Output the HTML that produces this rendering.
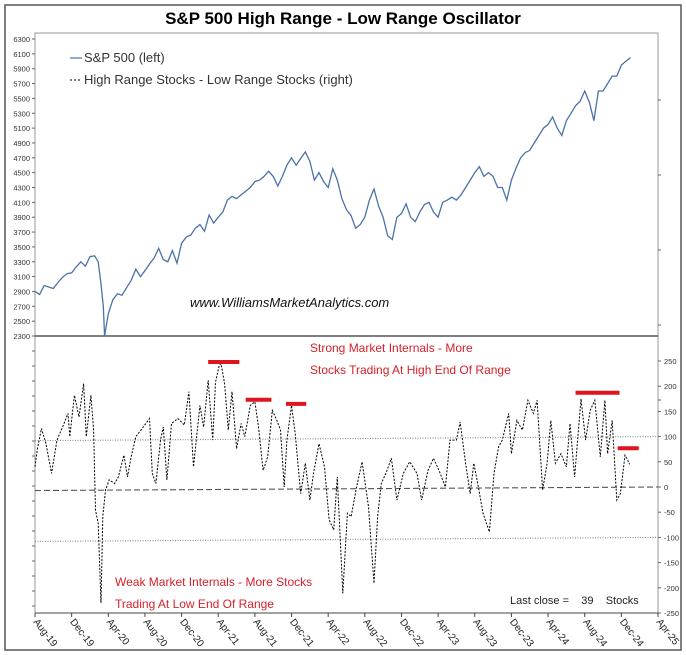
<!DOCTYPE html>
<html><head><meta charset="utf-8"><style>
body{margin:0;background:#fff;}
svg{display:block;font-family:"Liberation Sans",Arial,sans-serif;}
</style></head><body>
<svg id="c" width="686" height="655" viewBox="0 0 686 655">
<rect x="5" y="5" width="676" height="645" fill="#fff" stroke="#555" stroke-width="1.5"/>
<text x="343" y="24" text-anchor="middle" font-size="17" font-weight="bold">S&amp;P 500 High Range - Low Range Oscillator</text>
<g id="g"></g>
<line x1="70" y1="58" x2="82" y2="58" stroke="#4a72a8" stroke-width="1.2"/>
<text x="84" y="62" font-size="13" fill="#333">S&amp;P 500 (left)</text>
<line x1="70" y1="80" x2="82" y2="80" stroke="#000" stroke-dasharray="2,2"/>
<text x="84" y="84" font-size="13" fill="#333">High Range Stocks - Low Range Stocks (right)</text>
<text x="190" y="307" font-size="13" font-style="italic" fill="#111">www.WilliamsMarketAnalytics.com</text>
<text x="310" y="352" font-size="12" fill="#d8202a">Strong Market Internals - More</text>
<text x="310" y="374" font-size="12" fill="#d8202a">Stocks Trading At High End Of Range</text>
<text x="115" y="586" font-size="12" fill="#d8202a">Weak Market Internals - More Stocks</text>
<text x="115" y="608" font-size="12" fill="#d8202a">Trading At Low End Of Range</text>
<text x="510" y="604" font-size="11" fill="#222">Last close =&#160;&#160;&#160; 39&#160;&#160;&#160; Stocks</text>
</svg>
<script>
const spMonths=[0,0.5,1,1.5,2,2.5,3,3.5,4,4.5,5,5.5,6,6.5,6.9,7.2,7.45,7.6,8,8.5,9,9.5,10,10.5,11,11.5,12,12.5,13,13.5,14,14.5,15,15.5,16,16.5,17,17.5,18,18.5,19,19.5,20,20.5,21,21.5,22,22.5,23,23.5,24,24.5,25,25.5,26,26.5,27,27.5,28,28.5,29,29.5,30,30.5,31,31.5,32,32.5,33,33.5,34,34.5,35,35.5,36,36.5,37,37.5,38,38.5,39,39.5,40,40.5,41,41.5,42,42.5,43,43.5,44,44.5,45,45.5,46,46.5,47,47.5,48,48.5,49,49.5,50,50.5,51,51.5,52,52.5,53,53.5,54,54.5,55,55.5,56,56.5,57,57.5,58,58.5,59,59.5,60,60.5,61,61.5,62,62.5,63,63.5,64,64.5,65];
const spValues=[2900,2860,2980,2960,2940,3020,3090,3140,3150,3230,3300,3240,3370,3380,3300,3000,2700,2250,2600,2790,2870,2850,2950,3050,3200,3100,3180,3270,3350,3480,3330,3300,3450,3280,3550,3630,3660,3750,3800,3710,3930,3820,3900,3970,4130,4180,4150,4200,4250,4300,4380,4400,4450,4520,4450,4320,4450,4600,4700,4600,4690,4780,4650,4400,4500,4380,4300,4550,4400,4150,4000,3920,3750,3800,3900,4130,4280,4050,3900,3650,3600,3900,3950,4080,3900,3840,3970,4070,4100,3970,3900,4100,4130,4170,4130,4200,4300,4400,4500,4580,4450,4500,4450,4300,4300,4130,4400,4560,4700,4770,4800,4900,5000,5100,5150,5250,5100,5000,5200,5300,5400,5460,5600,5450,5200,5600,5600,5700,5800,5800,5950,6000,6050,5900,5850,6100,6000];
const oscMonths=[0,0.24,0.7,1.2,1.8,2.4,3.1,3.6,3.8,4.3,4.8,5.3,5.6,6.1,6.4,6.6,6.9,7.2,7.4,7.7,8.1,8.7,9.1,9.7,10.1,10.5,11,11.7,12.5,12.8,13.2,13.7,14,14.4,14.9,15.6,16.3,16.8,17.3,18,18.4,18.9,19.4,19.7,20.1,20.3,20.7,21.1,21.5,22,22.5,22.9,23.5,24,24.4,24.9,25.4,25.9,26.4,26.8,27.2,27.5,28,28.4,29,29.5,30,30.4,31,31.6,32.1,32.6,33,33.6,34.1,34.5,35.1,35.7,36.4,37,37.4,37.8,38.3,38.9,39.5,40.2,40.9,41.7,42.2,42.9,43.5,44.1,44.8,45.3,46,46.4,47,47.5,47.9,48.4,48.9,49.6,50.1,50.6,51,51.7,52,52.6,53.2,53.8,54.4,54.8,55.4,55.9,56.3,56.8,57.4,58,58.4,58.9,59.6,60.1,60.6,61.1,61.7,62.2,62.5,63,63.5,63.9,64.4,64.7,64.9];
const oscValues=[40,73,116,86,27,93,123,146,100,182,139,205,100,182,113,-46,-72,-230,-59,-6,14,7,20,63,20,60,100,116,136,27,7,93,119,14,126,136,123,189,40,162,119,212,93,208,241,245,205,113,189,76,126,100,162,169,119,33,60,152,132,113,0,93,162,106,-13,47,-26,27,86,40,-65,-85,20,-211,-52,-59,0,50,-39,-191,-59,7,27,57,-26,27,50,27,-26,33,57,33,0,93,93,129,47,-13,47,0,-52,-89,27,80,93,146,66,132,113,172,146,172,-6,47,132,47,66,40,126,20,175,93,152,172,60,172,66,132,-26,-13,63,53,45];
const markerStart=[18.9,23.0,27.4,59.0,63.6];
const markerEnd=[22.3,25.8,29.6,63.8,65.9];
const markerValues=[248,173,165,187,77];
const refLevels=[[92,100],[-7,0],[-108,-100]];
const leftTicks=[2300,2500,2700,2900,3100,3300,3500,3700,3900,4100,4300,4500,4700,4900,5100,5300,5500,5700,5900,6100,6300];
const rightTicks=[-250,-200,-150,-100,-50,0,50,100,150,200,250];
const xLabels=["Aug-19","Dec-19","Apr-20","Aug-20","Dec-20","Apr-21","Aug-21","Dec-21","Apr-22","Aug-22","Dec-22","Apr-23","Aug-23","Dec-23","Apr-24","Aug-24","Dec-24","Apr-25"];

const L=35,R=658,TOP=33,MID=336,BOT=613;
const x=m=>L+m/68*(R-L);
const yL=v=>MID-(v-2300)/4000*(MID-39);
const yR=v=>487-v*(252/500);
const g=document.getElementById('g');
const NS='http://www.w3.org/2000/svg';
function mk(t,a){const e=document.createElementNS(NS,t);for(const k in a)e.setAttribute(k,a[k]);g.appendChild(e);return e;}

let e=mk('rect',{x:L,y:TOP,width:R-L,height:BOT-TOP,fill:'none',stroke:'#999'});


e=mk('line',{x1:L,y1:MID,x2:R,y2:MID,stroke:'#333','stroke-width':1.2});


e=mk('line',{x1:L,y1:BOT,x2:R,y2:BOT,stroke:'#444'});



leftTicks.forEach(v=>{
  const y=yL(v);
  let t=mk('line',{x1:L-3,y1:y,x2:L,y2:y,stroke:'#666'});
  
  
  t=mk('text',{x:L-5,y:y+3,'font-size':7.5,'text-anchor':'end',fill:'#333'});
  t.textContent=v;
  
  
});
for(let y=MID+15;y<BOT;y+=15){
  const t=mk('line',{x1:L-3,y1:y,x2:L,y2:y,stroke:'#666'});
  
  
}
rightTicks.forEach(v=>{
  const y=yR(v);
  let t=mk('line',{x1:R,y1:y,x2:R+3,y2:y,stroke:'#666'});
  
  
  t=mk('text',{x:R+6,y:y+3,'font-size':7.5,fill:'#333'});
  t.textContent=v;
  
  
});
[400,325,250,175,100].forEach(y=>{
  const t=mk('line',{x1:R,y1:y,x2:R+3,y2:y,stroke:'#666'});
  
  
});
xLabels.forEach((s,i)=>{
  const xx=x(i*4);
  let t=mk('line',{x1:xx,y1:BOT,x2:xx,y2:BOT+4,stroke:'#444'});
  
  
  t=mk('text',{x:xx-2,y:BOT+9,'font-size':10,fill:'#222',transform:`rotate(52 ${xx-2} ${BOT+9})`});
  t.textContent=s;
  
  
});
const refStyles=[['1,1.5','#888'],['6,3','#555'],['1,1.5','#888']];
refLevels.forEach((r,i)=>{
  const t=mk('line',{x1:L,y1:yR(r[0]),x2:R,y2:yR(r[1]),stroke:refStyles[i][1],'stroke-dasharray':refStyles[i][0],'stroke-width':1.1});
  
  
});
let d=spMonths.map((m,i)=>(i?'L':'M')+x(m).toFixed(1)+','+Math.min(yL(spValues[i]),MID).toFixed(1)).join('');
e=mk('path',{d,fill:'none',stroke:'#4a72a8','stroke-width':1.3});


d=oscMonths.map((m,i)=>(i?'L':'M')+x(m).toFixed(1)+','+yR(oscValues[i]).toFixed(1)).join('');
e=mk('path',{d,fill:'none',stroke:'#000','stroke-width':1,'stroke-dasharray':'2,1.5'});


markerValues.forEach((v,i)=>{
  const t=mk('line',{x1:x(markerStart[i]),y1:yR(v),x2:x(markerEnd[i]),y2:yR(v),stroke:'#e0141e','stroke-width':4});
  
  
});
</script>
</body></html>
